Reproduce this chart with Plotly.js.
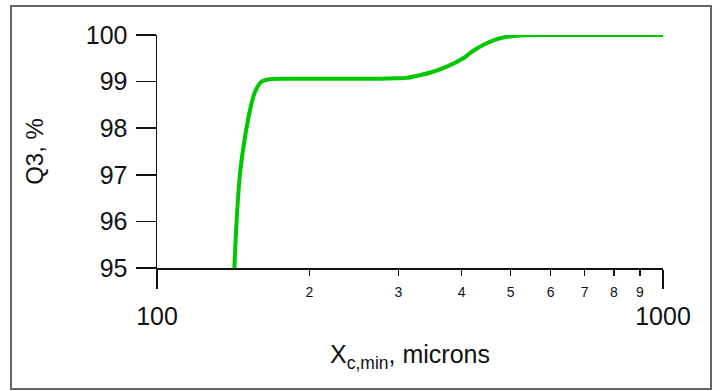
<!DOCTYPE html>
<html>
<head>
<meta charset="utf-8">
<script src="https://cdn.plot.ly/plotly-3.0.1.min.js"></script>
<style>
html,body{margin:0;padding:0;background:#fff;}
#chart{width:720px;height:391px;}
</style>
</head>
<body>
<div id="chart"></div>
<script>
// Data
const xMicrons = [142.2, 143.7, 145.9, 149.3, 152.7, 156.2, 161.0, 167.2, 180, 244, 276, 298, 311, 331, 346, 374, 403, 419, 442, 476, 514, 589, 700, 1000];
const q3Percent = [95.0, 96.03, 97.03, 97.82, 98.39, 98.78, 99.0, 99.05, 99.06, 99.06, 99.06, 99.07, 99.08, 99.14, 99.19, 99.32, 99.5, 99.64, 99.79, 99.93, 99.985, 100, 100, 100];
const majorTickVals = [100, 1000];
const majorTickText = ['100', '1000'];
const minorTickVals = [200, 300, 400, 500, 600, 700, 800, 900];
const minorTickText = ['2', '3', '4', '5', '6', '7', '8', '9'];
const yTickVals = [95, 96, 97, 98, 99, 100];

const FONT = '"Liberation Sans", Arial, sans-serif';

const traces = [{
  x: xMicrons,
  y: q3Percent,
  type: 'scatter',
  mode: 'lines',
  line: {color: '#00c800', width: 4, shape: 'spline', smoothing: 0.8},
  hoverinfo: 'skip',
  showlegend: false
}, {
  x: [minorTickVals[0]],
  y: [95],
  xaxis: 'x2',
  yaxis: 'y',
  type: 'scatter',
  mode: 'markers',
  marker: {opacity: 0},
  hoverinfo: 'skip',
  showlegend: false
}];

const layout = {
  width: 720,
  height: 391,
  margin: {l: 157, r: 57, t: 35, b: 123},
  paper_bgcolor: '#ffffff',
  plot_bgcolor: '#ffffff',
  font: {family: FONT, color: '#111'},
  showlegend: false,
  xaxis: {
    type: 'log',
    range: [2, 3],
    tickmode: 'array',
    tickvals: majorTickVals,
    ticktext: majorTickText,
    ticks: 'outside',
    ticklen: 19,
    tickwidth: 1.5,
    tickcolor: '#111',
    ticklabelstandoff: 6,
    tickfont: {size: 25, family: FONT, color: '#111'},
    showline: true,
    linecolor: '#111',
    linewidth: 1.5,
    showgrid: false,
    zeroline: false,
    fixedrange: true,
    title: {text: 'X<sub>c,min</sub>, microns', font: {size: 25, family: FONT, color: '#111'}, standoff: 17}
  },
  xaxis2: {
    type: 'log',
    range: [2, 3],
    overlaying: 'x',
    anchor: 'y',
    side: 'bottom',
    tickmode: 'array',
    tickvals: minorTickVals,
    ticktext: minorTickText,
    ticks: 'outside',
    ticklen: 7,
    tickwidth: 1.5,
    tickcolor: '#111',
    ticklabelstandoff: 4,
    tickfont: {size: 14, family: FONT, color: '#111'},
    showline: false,
    showgrid: false,
    zeroline: false,
    fixedrange: true
  },
  yaxis: {
    range: [95, 100],
    tickmode: 'array',
    tickvals: yTickVals,
    ticks: 'outside',
    ticklen: 20,
    tickwidth: 1.5,
    tickcolor: '#111',
    ticklabelstandoff: 3,
    tickfont: {size: 25, family: FONT, color: '#111'},
    showline: true,
    linecolor: '#111',
    linewidth: 1.5,
    showgrid: false,
    zeroline: false,
    fixedrange: true,
    title: {text: 'Q3, %', font: {size: 24, family: FONT, color: '#111'}, standoff: 35}
  },
  shapes: [{
    type: 'rect',
    xref: 'paper', yref: 'paper',
    x0: -0.2885, x1: 1.0949,
    y0: -0.519, y1: 1.1245,
    line: {color: '#666', width: 2},
    fillcolor: 'rgba(0,0,0,0)',
    layer: 'below'
  }]
};

Plotly.newPlot('chart', traces, layout, {staticPlot: true, displayModeBar: false});
</script>
</body>
</html>
